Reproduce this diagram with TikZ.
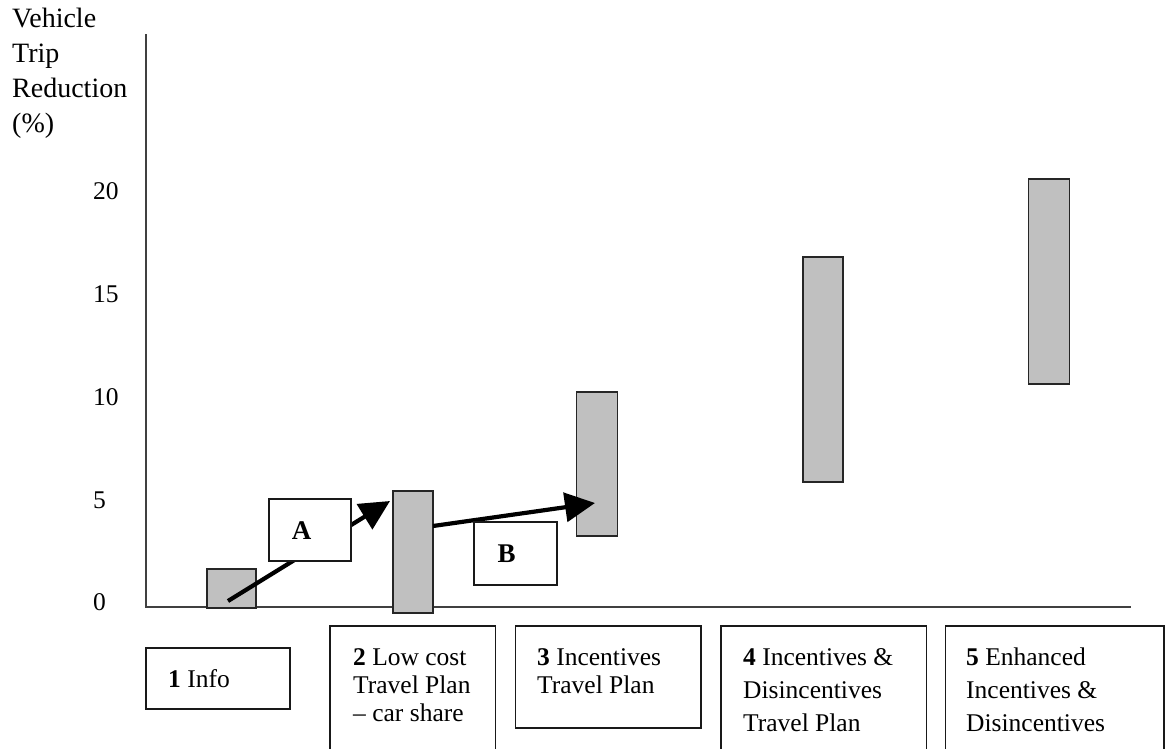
\documentclass[tikz,border=0pt]{standalone}
\usepackage{fontspec}
\setmainfont{Liberation Serif}
\usetikzlibrary{arrows.meta}
\definecolor{barfill}{HTML}{C0C0C0}
\definecolor{axisgray}{HTML}{404040}
\begin{document}
\begin{tikzpicture}[x=1pt,y=-1pt,
  bar/.style={draw=black!85,line width=1.3pt,fill=barfill,inner sep=0pt,outer sep=0pt},
  lbox/.style={draw=black!90,line width=1.4pt,fill=white,inner sep=0pt,outer sep=0pt},
  axisline/.style={draw=axisgray,line width=2pt},
  arr/.style={line width=4.2pt,-{Triangle[length=30pt,width=29pt]}},
  lbl/.style={anchor=north west,inner sep=0pt,align=left},
  boxtext/.style={lbl,font=\fontsize{25.5}{28}\selectfont},
  boxtextwide/.style={lbl,font=\fontsize{25.5}{33}\selectfont},
  ynum/.style={anchor=west,inner sep=0pt,font=\fontsize{25.5}{28}\selectfont},
  letter/.style={inner sep=0pt,font=\fontsize{27}{30}\selectfont\bfseries},
]
\useasboundingbox (0,0) rectangle (1165,748);
\clip (0,0) rectangle (1165,748);

% axis label
\node[lbl,font=\fontsize{28}{35}\selectfont] (ylabel) at (12,8) {Vehicle\\Trip\\Reduction\\(\%)};

% axes
\coordinate (ytop) at (146,34);
\coordinate (orig) at (146,607);
\coordinate (xend) at (1131,607);
\draw[axisline] (ytop) -- (orig) -- (xend);

% y numbers
\node[ynum] (n20) at (93,191.5) {20};
\node[ynum] (n15) at (93,294) {15};
\node[ynum] (n10) at (93,397) {10};
\node[ynum] (n5) at (93,500) {5};
\node[ynum] (n0) at (93,602) {0};

% bars
\node[bar,minimum width=49pt,minimum height=39pt] (b1) at (231.5,588.5) {};
\node[bar,minimum width=40pt,minimum height=122pt] (b2) at (413,552) {};
\node[bar,minimum width=40.5pt,minimum height=144pt] (b3) at (597,464) {};
\node[bar,minimum width=40pt,minimum height=225pt] (b4) at (823,369.5) {};
\node[bar,minimum width=41pt,minimum height=205pt] (b5) at (1049,281.5) {};

% arrows
\coordinate (aS) at (228,601);
\coordinate (aE) at (390,501);
\coordinate (bS) at (433,526);
\coordinate (bE) at (595,503);
\draw[arr] (aS) -- (aE);
\draw[arr] (bS) -- (bE);

% A and B boxes
\node[lbox,minimum width=82pt,minimum height=62pt] (boxA) at (310,530) {};
\node[letter] (lA) at (301.5,531) {A};
\node[lbox,minimum width=83pt,minimum height=63pt] (boxB) at (515.5,553.5) {};
\node[letter] (lB) at (506.5,554) {B};

% category boxes
\node[lbox,minimum width=144pt,minimum height=61pt] (c1) at (218,678.5) {};
\node[lbox,minimum width=165.5pt,minimum height=134pt] (c2) at (412.75,693) {};
\node[lbox,minimum width=185.5pt,minimum height=102pt] (c3) at (608.25,677) {};
\node[lbox,minimum width=205.5pt,minimum height=134pt] (c4) at (823.75,693) {};
\node[lbox,minimum width=218.5pt,minimum height=134pt] (c5) at (1054.75,693) {};

\node[boxtext] (t1) at (168,669) {\textbf{1} Info};
\node[boxtext] (t2) at (353,648.5) {\textbf{2} Low cost\\Travel Plan\\– car share};
\node[boxtext] (t3) at (537,648) {\textbf{3} Incentives\\Travel Plan};
\node[boxtextwide] (t4) at (743,648) {\textbf{4} Incentives \&\\Disincentives\\Travel Plan};
\node[boxtextwide] (t5) at (966,648) {\textbf{5} Enhanced\\Incentives \&\\Disincentives};
\end{tikzpicture}
\end{document}
